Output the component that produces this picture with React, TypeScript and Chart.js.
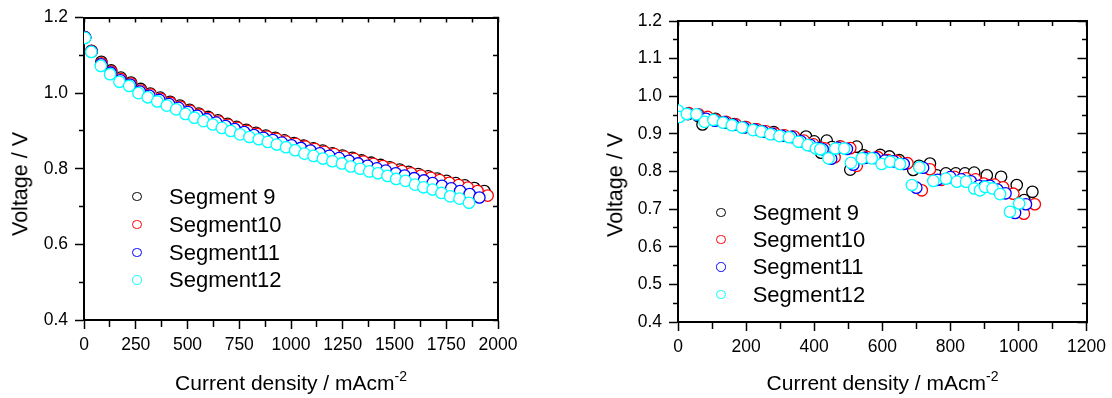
import React, { useEffect, useRef } from 'react';
import { Chart, registerables } from 'chart.js';

Chart.register(...registerables);

const FONT = "'Liberation Sans', Arial, Helvetica, sans-serif";

const seriesNames = ['Segment 9', 'Segment10', 'Segment11', 'Segment12'];
const seriesColors = ['#000000', '#ff0000', '#0000ff', '#00ffff'];

// ---- Left panel data (current density / mAcm-2, voltage / V)
const leftSeg9X = [5, 36, 84, 131, 178, 227, 274, 320, 368, 416, 463, 510, 554, 600, 647, 693, 737, 784, 831, 878, 924, 968, 1015, 1061, 1108, 1153, 1200, 1248, 1296, 1341, 1387, 1433, 1477, 1525, 1568, 1615, 1663, 1706, 1751, 1796, 1840, 1886, 1934];
const leftSeg9Y = [1.148, 1.112, 1.083, 1.060, 1.041, 1.028, 1.011, 0.999, 0.988, 0.977, 0.967, 0.956, 0.946, 0.937, 0.928, 0.919, 0.911, 0.903, 0.895, 0.888, 0.882, 0.875, 0.868, 0.861, 0.854, 0.848, 0.841, 0.835, 0.829, 0.822, 0.816, 0.810, 0.804, 0.798, 0.792, 0.786, 0.780, 0.774, 0.768, 0.762, 0.756, 0.749, 0.741];
const leftSeg10X = [5, 37, 85, 132, 179, 228, 276, 323, 371, 419, 466, 514, 559, 605, 652, 698, 743, 790, 837, 885, 931, 976, 1023, 1069, 1116, 1162, 1209, 1258, 1306, 1351, 1398, 1444, 1488, 1536, 1580, 1628, 1676, 1719, 1765, 1810, 1854, 1901, 1950];
const leftSeg10Y = [1.147, 1.111, 1.079, 1.057, 1.037, 1.025, 1.007, 0.996, 0.985, 0.974, 0.964, 0.953, 0.943, 0.934, 0.925, 0.916, 0.908, 0.900, 0.892, 0.885, 0.879, 0.872, 0.866, 0.859, 0.852, 0.845, 0.839, 0.832, 0.826, 0.819, 0.813, 0.807, 0.801, 0.794, 0.788, 0.782, 0.776, 0.770, 0.763, 0.757, 0.750, 0.741, 0.729];
const leftSeg11X = [5, 36, 83, 129, 176, 224, 270, 316, 364, 411, 457, 503, 547, 593, 639, 684, 728, 774, 821, 867, 912, 956, 1002, 1048, 1094, 1139, 1185, 1232, 1280, 1324, 1370, 1415, 1458, 1506, 1549, 1595, 1642, 1684, 1729, 1774, 1817, 1863, 1910];
const leftSeg11Y = [1.147, 1.110, 1.076, 1.054, 1.034, 1.022, 1.004, 0.993, 0.982, 0.971, 0.961, 0.950, 0.940, 0.931, 0.922, 0.913, 0.905, 0.897, 0.889, 0.882, 0.876, 0.869, 0.862, 0.855, 0.848, 0.841, 0.834, 0.828, 0.821, 0.814, 0.808, 0.801, 0.795, 0.788, 0.782, 0.775, 0.769, 0.762, 0.755, 0.748, 0.741, 0.733, 0.724];
const leftSeg12X = [5, 35, 81, 126, 171, 218, 263, 308, 354, 400, 445, 490, 533, 577, 622, 666, 709, 754, 799, 844, 888, 931, 976, 1020, 1065, 1109, 1154, 1200, 1246, 1289, 1334, 1378, 1420, 1466, 1508, 1553, 1599, 1640, 1684, 1727, 1769, 1814, 1860];
const leftSeg12Y = [1.146, 1.109, 1.072, 1.050, 1.030, 1.019, 1.000, 0.989, 0.978, 0.967, 0.957, 0.945, 0.935, 0.926, 0.917, 0.908, 0.900, 0.891, 0.884, 0.878, 0.871, 0.864, 0.857, 0.849, 0.840, 0.834, 0.827, 0.820, 0.814, 0.806, 0.800, 0.793, 0.788, 0.781, 0.773, 0.768, 0.758, 0.751, 0.745, 0.736, 0.727, 0.721, 0.710];

const leftXTickLabels = ['0', '250', '500', '750', '1000', '1250', '1500', '1750', '2000'];
const leftYTickLabels = ['0.4', '0.6', '0.8', '1.0', '1.2'];

// ---- Right panel data
const rightSeg9X = [0, 6, 30, 58, 72, 110, 138, 166, 196, 228, 254, 281, 309, 337, 376, 400, 420, 437, 452, 475, 506, 525, 545, 594, 621, 650, 691, 708, 740, 760, 787, 816, 843, 870, 907, 949, 995, 1017, 1041];
const rightSeg9Y = [0.955, 0.952, 0.953, 0.948, 0.925, 0.940, 0.930, 0.926, 0.918, 0.912, 0.906, 0.905, 0.895, 0.892, 0.893, 0.880, 0.850, 0.882, 0.865, 0.866, 0.805, 0.866, 0.843, 0.844, 0.840, 0.830, 0.804, 0.815, 0.821, 0.790, 0.795, 0.795, 0.795, 0.797, 0.790, 0.786, 0.764, 0.724, 0.746];
const rightSeg10X = [0, 8, 32, 60, 87, 113, 141, 170, 200, 232, 258, 285, 313, 341, 370, 398, 422, 433, 460, 478, 506, 525, 556, 587, 617, 643, 674, 716, 740, 774, 812, 846, 874, 898, 914, 930, 955, 985, 1016, 1048];
const rightSeg10Y = [0.958, 0.950, 0.955, 0.952, 0.945, 0.937, 0.932, 0.925, 0.918, 0.912, 0.907, 0.901, 0.896, 0.893, 0.882, 0.872, 0.863, 0.861, 0.838, 0.866, 0.862, 0.815, 0.838, 0.838, 0.830, 0.828, 0.822, 0.750, 0.806, 0.778, 0.786, 0.782, 0.779, 0.768, 0.763, 0.765, 0.758, 0.741, 0.688, 0.713];
const rightSeg11X = [0, 6, 28, 57, 82, 108, 136, 163, 193, 225, 250, 277, 305, 333, 361, 389, 413, 425, 450, 470, 496, 515, 548, 578, 608, 633, 663, 700, 720, 762, 800, 832, 860, 884, 900, 916, 938, 962, 990, 1022];
const rightSeg11Y = [0.960, 0.948, 0.953, 0.951, 0.940, 0.935, 0.931, 0.924, 0.917, 0.911, 0.906, 0.900, 0.895, 0.892, 0.880, 0.870, 0.862, 0.859, 0.834, 0.863, 0.860, 0.818, 0.836, 0.836, 0.829, 0.827, 0.820, 0.757, 0.810, 0.778, 0.785, 0.779, 0.774, 0.762, 0.760, 0.762, 0.752, 0.742, 0.690, 0.713];
const rightSeg12X = [0, 4, 26, 54, 78, 104, 132, 158, 188, 220, 244, 271, 298, 326, 354, 381, 405, 418, 442, 462, 488, 508, 540, 569, 598, 623, 652, 687, 709, 750, 787, 819, 846, 870, 887, 902, 924, 946, 975, 1002];
const rightSeg12Y = [0.962, 0.945, 0.953, 0.952, 0.932, 0.937, 0.930, 0.923, 0.917, 0.910, 0.906, 0.899, 0.894, 0.891, 0.879, 0.870, 0.861, 0.859, 0.835, 0.861, 0.861, 0.823, 0.835, 0.835, 0.820, 0.826, 0.820, 0.764, 0.811, 0.775, 0.781, 0.773, 0.773, 0.755, 0.750, 0.759, 0.755, 0.740, 0.693, 0.715];

const rightXTickLabels = ['0', '200', '400', '600', '800', '1000', '1200'];
const rightYTickLabels = ['0.4', '0.5', '0.6', '0.7', '0.8', '0.9', '1.0', '1.1', '1.2'];

const yTitle = 'Voltage / V';
const xTitleMain = 'Current density / mAcm';
const xTitleSup = '-2';

const fmtInt = (v: number) => String(Math.round(v));
const fmtDec = (v: number) => {
  const t = v * 10;
  return Math.abs(t - Math.round(t)) < 1e-6 ? v.toFixed(1) : v.toFixed(2);
};

type Pos = 'left' | 'right' | 'top' | 'bottom';

function buildAxis(o: {
  pos: Pos; min: number; max: number; step: number; labels: string[];
  fmt: (v: number) => string; major: number; minor: number; size: number;
  showLabels: boolean; pad?: number;
}) {
  const inward = o.pos === 'top' || o.pos === 'right';
  const L = Math.max(o.major, o.minor);
  const farFirst = o.pos === 'left' || o.pos === 'top';
  const isMajor = (v: number) => o.labels.includes(o.fmt(v));
  return {
    type: 'linear',
    position: o.pos,
    min: o.min,
    max: o.max,
    afterFit: (s: any) => {
      if (o.pos === 'left' || o.pos === 'right') s.width = o.size;
      else s.height = o.size;
    },
    border: { display: true, color: '#000', width: 2 },
    grid: {
      display: true,
      drawOnChartArea: false,
      drawTicks: true,
      tickLength: inward ? -L : L,
      tickColor: '#000',
      tickWidth: 1.5,
      tickBorderDash: (c: any) => {
        const v = c && c.tick ? c.tick.value : o.min;
        const d = isMajor(v) ? o.major : o.minor;
        if (d >= L) return [];
        return farFirst ? [0, L - d, 200] : [d + 1, 200];
      },
    },
    ticks: {
      display: o.showLabels,
      stepSize: o.step,
      autoSkip: false,
      maxRotation: 0,
      minRotation: 0,
      padding: o.pad ?? 6,
      color: '#000',
      font: { family: FONT, size: 17.5 },
      callback: (v: any) => {
        const s = o.fmt(Number(v));
        return o.labels.includes(s) ? s : '';
      },
    },
  };
}

type PanelDef = {
  xs: number[][];
  ys: number[][];
  xMin: number; xMax: number; xStep: number; xLabels: string[];
  yMin: number; yMax: number; yStep: number; yLabels: string[];
  area: { left: number; right: number; top: number; bottom: number };
  topTicks: [number, number];
  rightTicks: [number, number];
  legend: { cx: number; textX: number; y0: number; dy: number };
  yTitlePos: { cx: number; cy: number };
  xTitlePos: { cx: number; cy: number };
};

const W = 556;
const H = 398;

const leftPanel: PanelDef = {
  xs: [leftSeg9X, leftSeg10X, leftSeg11X, leftSeg12X],
  ys: [leftSeg9Y, leftSeg10Y, leftSeg11Y, leftSeg12Y],
  xMin: 0, xMax: 2000, xStep: 125, xLabels: leftXTickLabels,
  yMin: 0.4, yMax: 1.2, yStep: 0.1, yLabels: leftYTickLabels,
  area: { left: 84, right: 498, top: 14, bottom: 320 },
  topTicks: [5, 5],
  rightTicks: [5, 5],
  legend: { cx: 137, textX: 169, y0: 196.7, dy: 27.8 },
  yTitlePos: { cx: 21, cy: 184 },
  xTitlePos: { cx: 291, cy: 382.6 },
};

const rightPanel: PanelDef = {
  xs: [rightSeg9X, rightSeg10X, rightSeg11X, rightSeg12X],
  ys: [rightSeg9Y, rightSeg10Y, rightSeg11Y, rightSeg12Y],
  xMin: 0, xMax: 1200, xStep: 100, xLabels: rightXTickLabels,
  yMin: 0.4, yMax: 1.2, yStep: 0.05, yLabels: rightYTickLabels,
  area: { left: 122, right: 531, top: 21, bottom: 322 },
  topTicks: [5, 5],
  rightTicks: [9, 5],
  legend: { cx: 165, textX: 196.7, y0: 212.3, dy: 27.3 },
  yTitlePos: { cx: 59.5, cy: 185 },
  xTitlePos: { cx: 326.5, cy: 382.5 },
};

function Panel({ def, offsetX }: { def: PanelDef; offsetX: number }) {
  const ref = useRef<HTMLCanvasElement | null>(null);

  useEffect(() => {
    if (!ref.current) return;
    const a = def.area;
    const datasets = def.xs.map((xs, i) => ({
      label: seriesNames[i],
      data: xs.map((x, j) => ({ x, y: def.ys[i][j] })),
      borderColor: seriesColors[i],
      backgroundColor: '#ffffff',
      pointBorderColor: seriesColors[i],
      pointBackgroundColor: '#ffffff',
      pointRadius: 5.7,
      pointBorderWidth: 1.3,
      pointStyle: 'circle',
      showLine: false,
      order: def.xs.length - 1 - i,
    }));
    const chart = new Chart(ref.current, {
      type: 'scatter',
      data: { datasets },
      options: {
        responsive: false,
        animation: false,
        events: [],
        layout: { padding: { left: 0, right: W - a.right, top: a.top, bottom: 0 } },
        plugins: { legend: { display: false }, tooltip: { enabled: false } },
        scales: {
          x: buildAxis({ pos: 'bottom', min: def.xMin, max: def.xMax, step: def.xStep, labels: def.xLabels, fmt: fmtInt, major: 9, minor: 5, size: H - a.bottom, showLabels: true, pad: 6 }),
          y: buildAxis({ pos: 'left', min: def.yMin, max: def.yMax, step: def.yStep, labels: def.yLabels, fmt: fmtDec, major: 9, minor: 5, size: a.left, showLabels: true, pad: 7 }),
          x2: buildAxis({ pos: 'top', min: def.xMin, max: def.xMax, step: def.xStep, labels: def.xLabels, fmt: fmtInt, major: def.topTicks[0], minor: def.topTicks[1], size: 0, showLabels: false }),
          y2: buildAxis({ pos: 'right', min: def.yMin, max: def.yMax, step: def.yStep, labels: def.yLabels, fmt: fmtDec, major: def.rightTicks[0], minor: def.rightTicks[1], size: 0, showLabels: false }),
        },
      } as any,
    });
    return () => chart.destroy();
  }, [def]);

  const lg = def.legend;
  return (
    <div style={{ position: 'absolute', left: offsetX, top: 0, width: W, height: H }}>
      <canvas ref={ref} width={W} height={H} style={{ position: 'absolute', left: 0, top: 0, width: W, height: H }} />
      {seriesNames.map((name, i) => {
        const cy = lg.y0 + i * lg.dy;
        return (
          <React.Fragment key={name}>
            <span
              style={{
                position: 'absolute',
                left: lg.cx - 4.7,
                top: cy - 4.7,
                width: 9.4,
                height: 9.4,
                boxSizing: 'border-box',
                border: `1.3px solid ${seriesColors[i]}`,
                borderRadius: '50%',
                background: '#fff',
              }}
            />
            <div
              style={{
                position: 'absolute',
                left: lg.textX,
                top: cy - 10.7,
                fontFamily: FONT,
                fontSize: 22,
                lineHeight: '22px',
                whiteSpace: 'nowrap',
                color: '#000',
              }}
            >
              {name}
            </div>
          </React.Fragment>
        );
      })}
      <div
        style={{
          position: 'absolute',
          left: def.yTitlePos.cx,
          top: def.yTitlePos.cy,
          transform: 'translate(-50%, -50%) rotate(-90deg)',
          fontFamily: FONT,
          fontSize: 21.5,
          lineHeight: '21.5px',
          whiteSpace: 'nowrap',
          color: '#000',
        }}
      >
        {yTitle}
      </div>
      <div
        style={{
          position: 'absolute',
          left: def.xTitlePos.cx,
          top: def.xTitlePos.cy - 10.3,
          transform: 'translateX(-50%)',
          fontFamily: FONT,
          fontSize: 21,
          lineHeight: '21px',
          whiteSpace: 'nowrap',
          color: '#000',
        }}
      >
        {xTitleMain}
        <span style={{ fontSize: 14, position: 'relative', top: -9 }}>{xTitleSup}</span>
      </div>
    </div>
  );
}

export default function App() {
  return (
    <div style={{ position: 'absolute', left: 0, top: 0, width: 1112, height: 398, background: '#fff', overflow: 'hidden' }}>
      <Panel def={leftPanel} offsetX={0} />
      <Panel def={rightPanel} offsetX={556} />
    </div>
  );
}
